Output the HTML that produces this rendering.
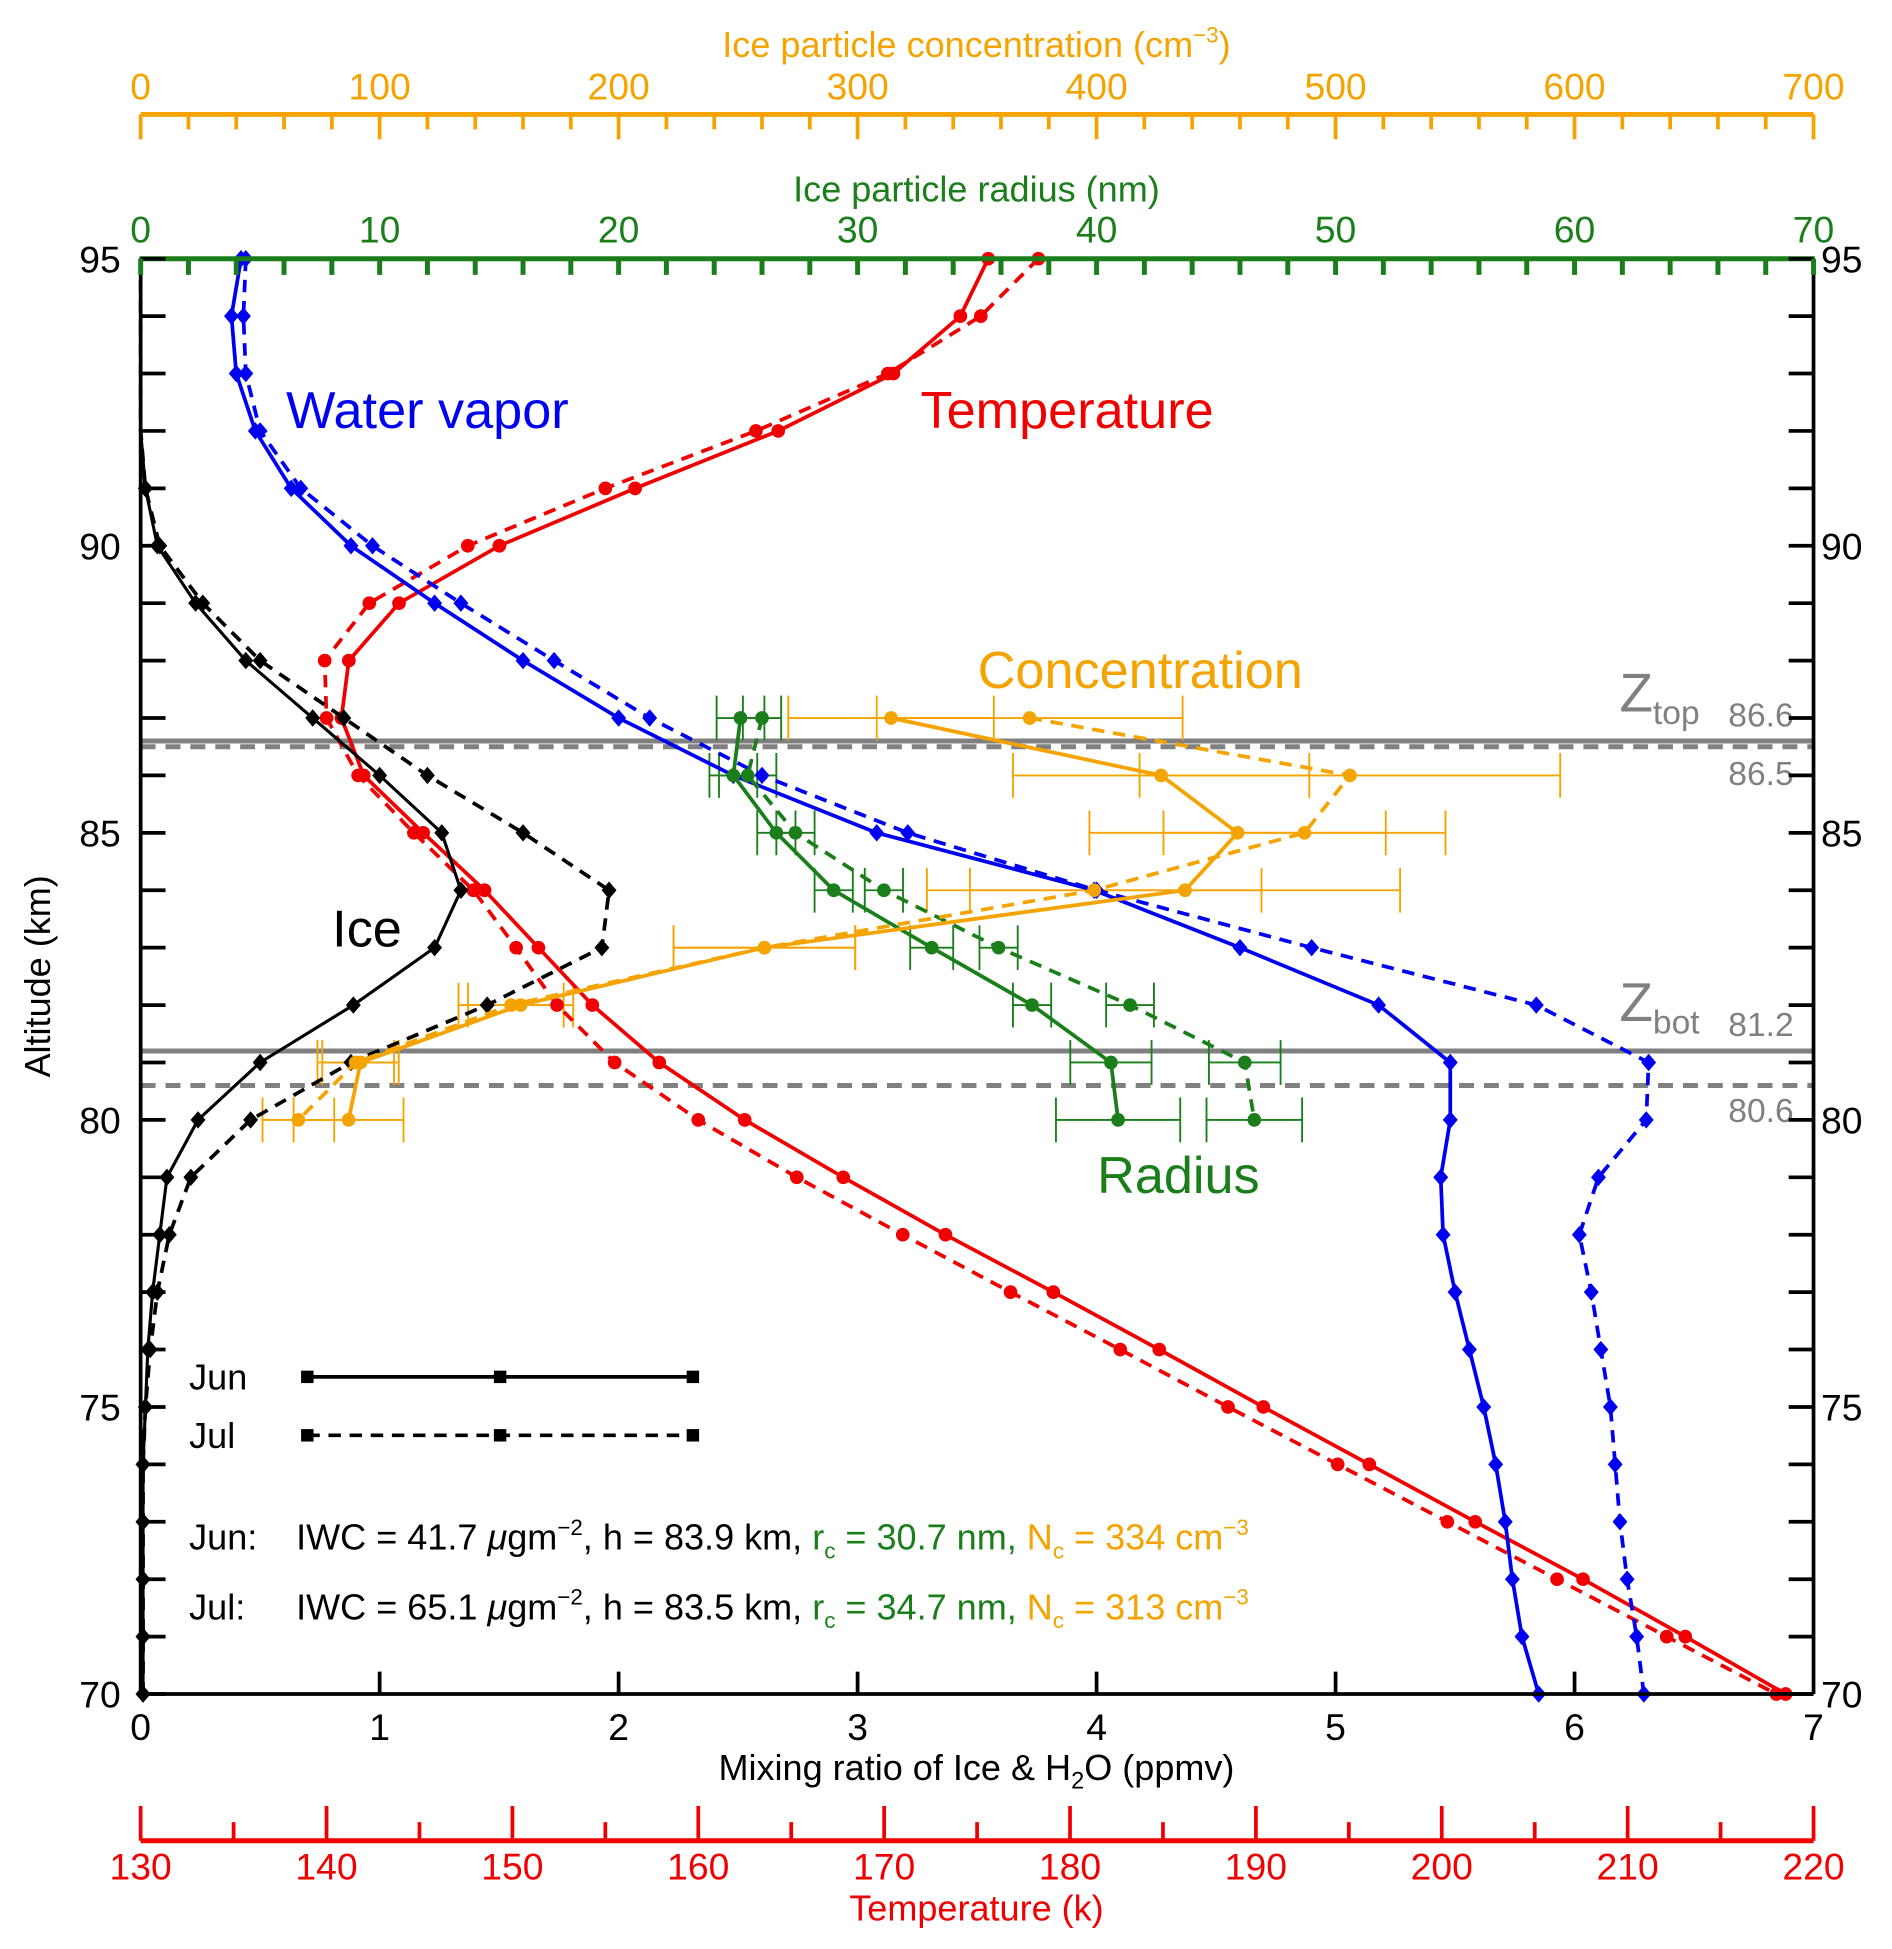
<!DOCTYPE html>
<html><head><meta charset="utf-8"><style>
html,body{margin:0;padding:0;background:#fff}
svg{display:block;font-family:"Liberation Sans","DejaVu Sans",sans-serif}
</style></head><body>
<svg id="chart" width="1892" height="1949" viewBox="0 0 1521 1567" xmlns="http://www.w3.org/2000/svg"></svg>
<script>
const alts=[95,94,93,92,91,90,89,88,87,86,85,84,83,82,81,80,79,78,77,76,75,74,73,72,71,70];
const wvJun=[0.42,0.38,0.40,0.48,0.63,0.88,1.23,1.60,2.00,2.48,3.08,3.99,4.60,5.18,5.48,5.48,5.44,5.45,5.50,5.56,5.62,5.67,5.71,5.74,5.78,5.85];
const wvJul=[0.44,0.43,0.44,0.50,0.67,0.97,1.34,1.73,2.13,2.60,3.21,4.00,4.90,5.84,6.31,6.30,6.10,6.02,6.07,6.11,6.15,6.17,6.19,6.22,6.26,6.29];
const iceJun=[0,0,0,0,0.02,0.07,0.23,0.44,0.72,1.00,1.26,1.34,1.23,0.89,0.50,0.24,0.11,0.08,0.05,0.03,0.02,0.01,0.01,0.01,0.01,0.01];
const iceJul=[0,0,0,0,0.02,0.08,0.26,0.50,0.85,1.20,1.60,1.96,1.93,1.45,0.88,0.46,0.21,0.12,0.07,0.04,0.02,0.01,0.01,0.01,0.01,0.01];
const tJun=[175.6,174.1,170.5,164.3,156.6,149.3,143.9,141.2,140.8,142.0,145.2,148.5,151.4,154.3,157.9,162.5,167.8,173.3,179.1,184.8,190.4,196.1,201.8,207.6,213.1,218.5];
const tJul=[178.3,175.2,170.2,163.1,155.0,147.6,142.3,139.9,140.0,141.7,144.7,147.9,150.2,152.4,155.5,160.0,165.3,171.0,176.8,182.7,188.5,194.4,200.3,206.2,212.1,218.0];
const cloudAlts=[87,86,85,84,83,82,81,80];
const radJun=[25.1,24.8,26.6,29.0,33.1,37.3,40.6,40.9];
const radJunErr=[1.0,1.0,0.8,0.8,0.9,0.8,1.7,2.6];
const radJul=[26.0,25.4,27.4,31.1,35.9,41.4,46.2,46.6];
const radJulErr=[0.8,1.2,0.8,0.8,0.8,1.0,1.5,2.0];
const conJun=[314,427,459,437,261,159,92,87];
const conJunErr=[43,62,62,90,38,22,16,23];
const conJul=[372,506,487,399,261,155,90,66];
const conJulErr=[64,88,59,70,38,22,16,15];
const kmTicks=[70,75,80,85,90,95];
const ppmvTicks=[0,1,2,3,4,5,6,7];
const radTicks=[0,10,20,30,40,50,60,70];
const conTicks=[0,100,200,300,400,500,600,700];
const tempTicks=[130,140,150,160,170,180,190,200,210,220];

const X0=113,X1=1458,YT=208,YB=1362;
const yA=a=>YB-(a-70)/25*(YB-YT);
const xP=v=>X0+v/7*(X1-X0);
const xR=v=>X0+v/70*(X1-X0);
const xC=v=>X0+v/700*(X1-X0);
const xT=v=>X0+(v-130)/90*(X1-X0);
const svg=document.getElementById('chart');
const NS='http://www.w3.org/2000/svg';
function mk(tag,at,parent){const e=document.createElementNS(NS,tag);for(const k in at)e.setAttribute(k,at[k]);(parent||svg).appendChild(e);return e;}
function txt(s,x,y,fs,fill,anchor,name){const t=mk('text',{x:x,y:y,'font-size':fs,fill:fill,'text-anchor':anchor||'middle'});t.textContent=s;


return t;}

[[86.6,false],[86.5,true],[81.2,false],[80.6,true]].forEach(([a,d],i)=>{
 const l=mk('line',{x1:X0,x2:X1,y1:yA(a),y2:yA(a),stroke:'#808080','stroke-width':4,'stroke-dasharray':d?'12 8':'none'});
 
 
});
txt('86.6',1442,584,27,'#808080','end','ztop-jun-value');
txt('86.5',1442,631,27,'#808080','end','ztop-jul-value');
txt('81.2',1442,833,27,'#808080','end','zbot-jun-value');
txt('80.6',1442,902,27,'#808080','end','zbot-jul-value');
const zt=mk('text',{x:1302,y:572,'font-size':44,fill:'#808080'});zt.innerHTML='Z<tspan font-size="27" dy="10">top</tspan>';

const zb=mk('text',{x:1302,y:821,'font-size':44,fill:'#808080'});zb.innerHTML='Z<tspan font-size="27" dy="10">bot</tspan>';


function series(xs,xf,ys,color,dash,marker,name,w,skipZero){
 const g=mk('g',{});
 
 
 const pts=xs.map((v,i)=>xf(v)+','+yA(ys[i])).join(' ');
 mk('polyline',{points:pts,fill:'none',stroke:color,'stroke-width':w||3,'stroke-dasharray':dash?'10 7':'none'},g);
 xs.forEach((v,i)=>{if(skipZero&&v===0)return;const x=xf(v),y=yA(ys[i]);let m;
  if(marker==='d')m=mk('polygon',{points:`${x},${y-7} ${x+6},${y} ${x},${y+7} ${x-6},${y}`,fill:color},g);
  else m=mk('circle',{cx:x,cy:y,r:5.5,fill:color},g);
  
  
 });
}
function errs(xs,es,xf,ys,color,name){
 const g=mk('g',{});
 
 
 xs.forEach((v,i)=>{const y=yA(ys[i]),a=xf(v-es[i]),b=xf(v+es[i]);
  mk('line',{x1:a,x2:b,y1:y,y2:y,stroke:color,'stroke-width':1.5},g);
  mk('line',{x1:a,x2:a,y1:y-18,y2:y+18,stroke:color,'stroke-width':1.5},g);
  mk('line',{x1:b,x2:b,y1:y-18,y2:y+18,stroke:color,'stroke-width':1.5},g);
 });
}
errs(conJun,conJunErr,xC,cloudAlts,'#f5a300','conc-jun-errorbars');
errs(conJul,conJulErr,xC,cloudAlts,'#f5a300','conc-jul-errorbars');
errs(radJun,radJunErr,xR,cloudAlts,'#1a7f1a','radius-jun-errorbars');
errs(radJul,radJulErr,xR,cloudAlts,'#1a7f1a','radius-jul-errorbars');
series(tJun,xT,alts,'#f00000',false,'c','temperature-jun');
series(tJul,xT,alts,'#f00000',true,'c','temperature-jul');
series(wvJun,xP,alts,'#0000f0',false,'d','water-vapor-jun');
series(wvJul,xP,alts,'#0000f0',true,'d','water-vapor-jul');
series(iceJun,xP,alts,'#000',false,'d','ice-jun',2.5,true);
series(iceJul,xP,alts,'#000',true,'d','ice-jul',3,true);
series(radJun,xR,cloudAlts,'#1a7f1a',false,'c','radius-jun');
series(radJul,xR,cloudAlts,'#1a7f1a',true,'c','radius-jul');
series(conJun,xC,cloudAlts,'#f5a300',false,'c','concentration-jun');
series(conJul,xC,cloudAlts,'#f5a300',true,'c','concentration-jul');

mk('line',{x1:X0,x2:X0,y1:YT,y2:YB,stroke:'#000','stroke-width':3});
mk('line',{x1:X1,x2:X1,y1:YT,y2:YB,stroke:'#000','stroke-width':3});
mk('line',{x1:X0,x2:X1,y1:YB,y2:YB,stroke:'#000','stroke-width':3});
mk('line',{x1:X0-1,x2:X1+1,y1:YT,y2:YT,stroke:'#1a7f1a','stroke-width':4});
for(let a=70;a<=95;a++){const y=yA(a);
 mk('line',{x1:X0,x2:X0+20,y1:y,y2:y,stroke:'#000','stroke-width':3});
 mk('line',{x1:X1-20,x2:X1,y1:y,y2:y,stroke:'#000','stroke-width':3});}
kmTicks.forEach(k=>{txt(String(k),97,yA(k)+11,30,'#000','end','y-tick-left');txt(String(k),1464,yA(k)+11,30,'#000','start','y-tick-right');});
ppmvTicks.forEach(v=>{const x=xP(v);if(v>0&&v<7)mk('line',{x1:x,x2:x,y1:YB,y2:YB-18,stroke:'#000','stroke-width':3});txt(String(v),x,1399,30,'#000','middle','x-tick-ppmv');});
txt('Altitude (km)',0,0,29,'#000','middle','y-axis-title').setAttribute('transform','translate(40,785) rotate(-90)');
const xt=mk('text',{x:785,y:1431,'font-size':29,fill:'#000','text-anchor':'middle'});xt.innerHTML='Mixing ratio of Ice &amp; H<tspan font-size="19" dy="7">2</tspan><tspan dy="-7">O (ppmv)</tspan>';

for(let v=0;v<=70;v+=2){const x=xR(v);mk('line',{x1:x,x2:x,y1:YT,y2:YT+13,stroke:'#1a7f1a','stroke-width':4});}
radTicks.forEach(v=>txt(String(v),xR(v),195,30,'#1a7f1a','middle','radius-tick'));
txt('Ice particle radius (nm)',785,162,29,'#1a7f1a','middle','radius-axis-title');
mk('line',{x1:X0,x2:X1,y1:92,y2:92,stroke:'#f5a300','stroke-width':4});
for(let v=0;v<=700;v+=20){const x=xC(v);mk('line',{x1:x,x2:x,y1:92,y2:v%100===0?112:104,stroke:'#f5a300','stroke-width':3});}
conTicks.forEach(v=>txt(String(v),xC(v),80,30,'#f5a300','middle','conc-tick'));
const ct=mk('text',{x:785,y:46,'font-size':29,fill:'#f5a300','text-anchor':'middle'});ct.innerHTML='Ice particle concentration (cm<tspan font-size="18" dy="-12">−3</tspan><tspan dy="12">)</tspan>';

mk('line',{x1:X0,x2:X1,y1:1480,y2:1480,stroke:'#f00000','stroke-width':4});
for(let v=130;v<=220;v+=5){const x=xT(v);mk('line',{x1:x,x2:x,y1:1480,y2:v%10===0?1452:1465,stroke:'#f00000','stroke-width':3});}
tempTicks.forEach(v=>txt(String(v),xT(v),1511,30,'#f00000','middle','temp-tick'));
txt('Temperature (k)',785,1544,29,'#f00000','middle','temp-axis-title');
txt('Water vapor',230,344,42,'#0000f0','start','water-vapor-label');
txt('Temperature',740,344,42,'#f00000','start','temperature-label');
txt('Concentration',786,553,42,'#f5a300','start','concentration-label');
txt('Ice',267,761,42,'#000','start','ice-label');
txt('Radius',882,959,42,'#1a7f1a','start','radius-label');
[[1107,false,'Jun'],[1154,true,'Jul']].forEach(([y,d,l])=>{
 txt(l,152,y+10,29,'#000','start','legend-label-'+l.toLowerCase());
 mk('line',{x1:247,x2:557,y1:y,y2:y,stroke:'#000','stroke-width':3,'stroke-dasharray':d?'10 7':'none'});
 [247,402,557].forEach(x=>mk('rect',{x:x-5,y:y-5,width:10,height:10,fill:'#000'}));
});
function info(y,who,iwc,h,rc,nc){
 txt(who+':',152,y,29,'#000','start','summary-'+who.toLowerCase());
 const t=mk('text',{x:238,y:y,'font-size':29,fill:'#000'});
 t.innerHTML=`IWC = ${iwc} <tspan font-style="italic">μ</tspan>gm<tspan font-size="18" dy="-12">−2</tspan><tspan dy="12">, h = ${h} km, </tspan><tspan fill="#1a7f1a">r<tspan font-size="18" dy="7">c</tspan><tspan dy="-7"> = ${rc} nm,</tspan></tspan><tspan fill="#f5a300"> N<tspan font-size="18" dy="7">c</tspan><tspan dy="-7"> = ${nc} cm</tspan><tspan font-size="18" dy="-12">−3</tspan></tspan>`;
 
 
}
info(1246,'Jun','41.7','83.9','30.7','334');
info(1302,'Jul','65.1','83.5','34.7','313');
</script>
</body></html>
